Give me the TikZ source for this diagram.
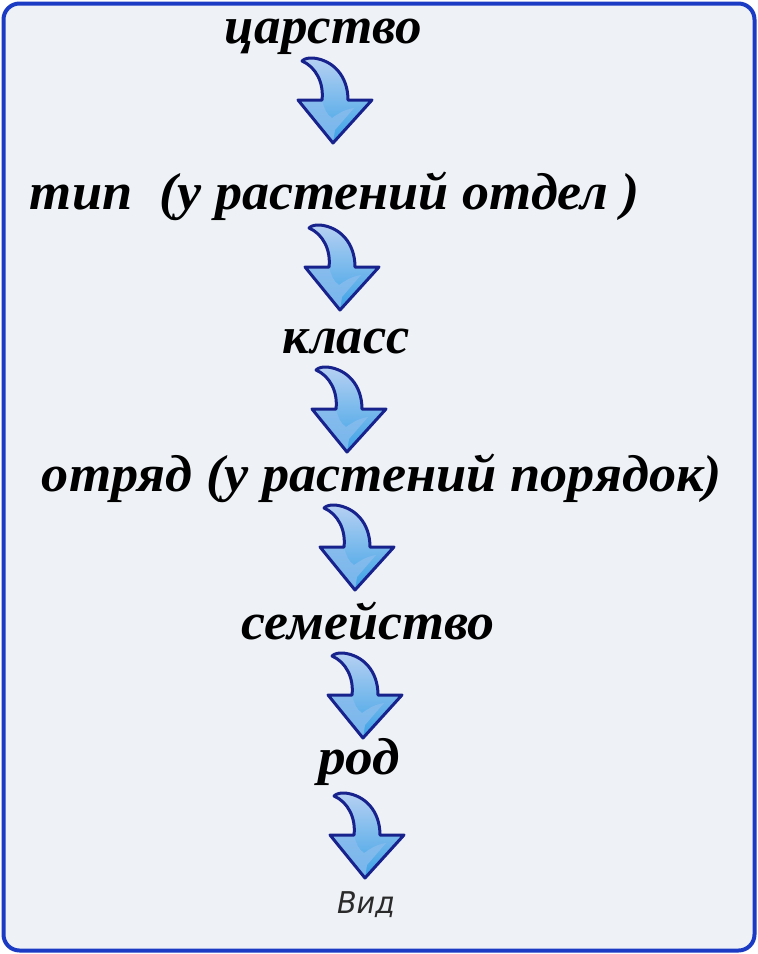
\documentclass[tikz,border=0pt]{standalone}
\usepackage{fontspec}
\usepackage{graphicx}
\setmainfont{Liberation Serif}
\newfontfamily\vidfont{DejaVu Sans}
\usetikzlibrary{shadings}
\definecolor{frameblue}{HTML}{1B3BC4}
\definecolor{bgcol}{HTML}{EEF2F6}
\definecolor{arrowedge}{HTML}{18228C}
\definecolor{arrowtop}{HTML}{B6D0F2}
\definecolor{arrowbot}{HTML}{3AA2E6}
\definecolor{arrowhi}{HTML}{8CBDEE}
\definecolor{vidgray}{HTML}{2A2A2A}
\tikzset{
  lbl/.style={inner sep=0pt, anchor=base, font=\fontsize{52}{60}\selectfont\bfseries\itshape},
  bluearrow/.pic={
    \path[top color=arrowtop, bottom color=arrowbot]
      (15,0) .. controls (35,2) and (50,18) .. (50,42) -- (74,42) -- (35,85) -- (0,42) -- (24,42)
      .. controls (26,25) and (18,9) .. (4,3) .. controls (7,0) and (11,0) .. (15,0) -- cycle;
    \fill[arrowhi, opacity=0.75] (0,42) -- (24,42) .. controls (26,50) and (28,56) .. (34,60)
      .. controls (40,56) and (45,52) .. (56,50) -- (37,72) -- (35,85) -- cycle;
    \draw[draw=arrowedge, line width=3pt, line join=round]
      (15,0) .. controls (35,2) and (50,18) .. (50,42) -- (74,42) -- (35,85) -- (0,42) -- (24,42)
      .. controls (26,25) and (18,9) .. (4,3) .. controls (7,0) and (11,0) .. (15,0) -- cycle;
  }
}
\begin{document}
\begin{tikzpicture}[x=1pt,y=-1pt]
\useasboundingbox (0,0) rectangle (758,954);
\fill[white] (0,0) rectangle (758,954);
\draw[draw=frameblue, line width=4pt, fill=bgcol, rounded corners=16pt] (3.5,3.5) rectangle (754.5,950.5);

\node[lbl] (k)  at (323.5,43) {\resizebox{197pt}{\height}{царство}};
\node[lbl] (t)  at (335,209)  {\resizebox{610pt}{\height}{тип\ \ (у растений отдел )}};
\node[lbl] (kl) at (346,353)  {\resizebox{127pt}{\height}{класс}};
\node[lbl] (o)  at (382,491)  {\resizebox{680pt}{\height}{отряд (у растений порядок)}};
\node[lbl] (s)  at (368,639)  {\resizebox{253pt}{\height}{семейство}};
\node[lbl] (r)  at (359,774)  {\resizebox{82pt}{\height}{род}};
\node[inner sep=0pt, anchor=base, text=vidgray, font=\vidfont\itshape\fontsize{30}{34}\selectfont] (v) at (366,913) {\resizebox{58pt}{\height}{Вид}};

\pic (a1) at (298,58)  {bluearrow};
\pic (a2) at (305,225) {bluearrow};
\pic (a3) at (312,367) {bluearrow};
\pic (a4) at (320,505) {bluearrow};
\pic (a5) at (328,653) {bluearrow};
\pic (a6) at (330,793) {bluearrow};
\end{tikzpicture}
\end{document}
